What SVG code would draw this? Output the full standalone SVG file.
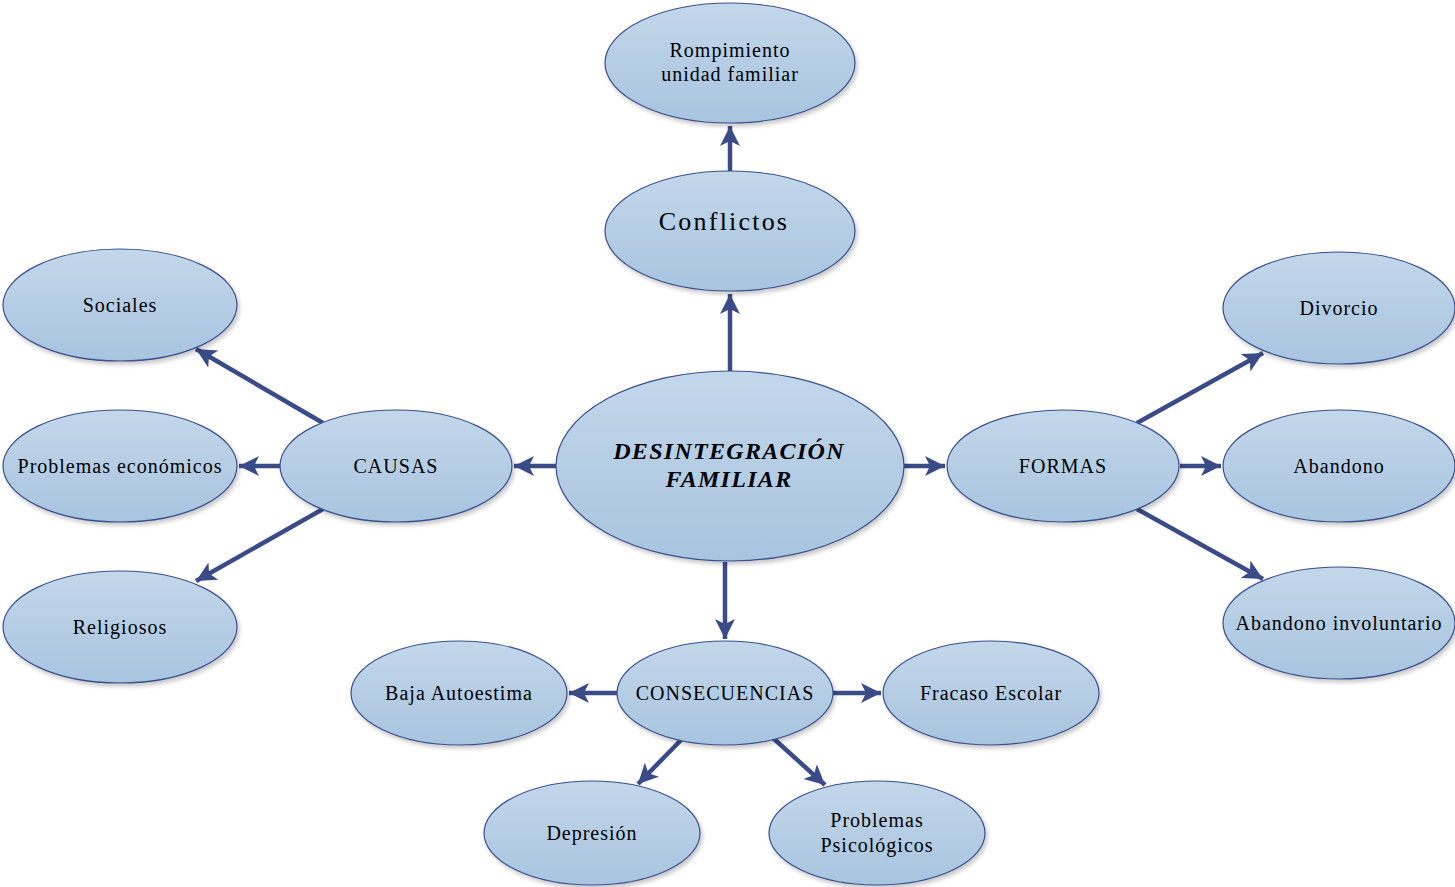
<svg xmlns="http://www.w3.org/2000/svg" width="1455" height="887" viewBox="0 0 1455 887">
<defs>
<linearGradient id="g" x1="0" y1="0" x2="0" y2="1">
<stop offset="0" stop-color="#c3d7ea"/>
<stop offset="1" stop-color="#a8c4df"/>
</linearGradient>
<filter id="sh" x="-10%" y="-10%" width="125%" height="130%">
<feGaussianBlur in="SourceAlpha" stdDeviation="2"/>
<feOffset dx="2" dy="3" result="b"/>
<feComponentTransfer><feFuncA type="linear" slope="0.22"/></feComponentTransfer>
<feMerge><feMergeNode/><feMergeNode in="SourceGraphic"/></feMerge>
</filter>
<marker id="ah" markerUnits="userSpaceOnUse" markerWidth="24" markerHeight="22" refX="20" refY="10" orient="auto">
<path d="M0,0 L20,10 L0,20 L5,10 Z" fill="#3a4b88"/>
</marker>
</defs>
<style>
.n ellipse{fill:url(#g);stroke:#3a4f8e;stroke-width:1.2;filter:url(#sh)}
.n text{font-family:"Liberation Serif","Times New Roman",serif;font-size:20px;letter-spacing:1px;fill:#000;text-anchor:middle;dominant-baseline:central}
.n text.big{font-size:24px;font-weight:bold;font-style:italic;letter-spacing:1.3px}
.c line{stroke:#3a4b88;stroke-width:4.5;marker-end:url(#ah)}
</style>
<g class="c" id="connectors">
<line x1="730" y1="371" x2="730" y2="294"/>
<line x1="730" y1="171" x2="730" y2="126"/>
<line x1="556" y1="466" x2="514" y2="466"/>
<line x1="280" y1="466" x2="239" y2="466"/>
<line x1="323" y1="423" x2="196" y2="349"/>
<line x1="323" y1="509" x2="196" y2="581"/>
<line x1="904" y1="466" x2="945" y2="466"/>
<line x1="1180" y1="466" x2="1221" y2="466"/>
<line x1="1137" y1="423" x2="1263" y2="353"/>
<line x1="1137" y1="509" x2="1263" y2="579"/>
<line x1="725" y1="562" x2="725" y2="639"/>
<line x1="617" y1="693" x2="569" y2="693"/>
<line x1="833" y1="693" x2="881" y2="693"/>
<line x1="681" y1="740" x2="638" y2="784"/>
<line x1="773" y1="738" x2="825" y2="785"/>
</g>
<g class="n" id="rompimiento"><ellipse cx="730" cy="63" rx="125" ry="60"/><text x="730" y="50">Rompimiento</text><text x="730" y="74">unidad familiar</text></g>
<g class="n" id="conflictos"><ellipse cx="730" cy="231" rx="125" ry="60"/><text x="724" y="221" style="font-size:26px;letter-spacing:2.2px">Conflictos</text></g>
<g class="n" id="desintegracion"><ellipse cx="730" cy="466" rx="174" ry="95"/><text class="big" x="729" y="451">DESINTEGRACIÓN</text><text class="big" x="729" y="479">FAMILIAR</text></g>
<g class="n" id="causas"><ellipse cx="396" cy="466" rx="116" ry="56"/><text x="396" y="466">CAUSAS</text></g>
<g class="n" id="sociales"><ellipse cx="120" cy="305" rx="117" ry="56"/><text x="120" y="305">Sociales</text></g>
<g class="n" id="economicos"><ellipse cx="120" cy="466" rx="117" ry="56"/><text x="120" y="466">Problemas económicos</text></g>
<g class="n" id="religiosos"><ellipse cx="120" cy="627" rx="117" ry="56"/><text x="120" y="627">Religiosos</text></g>
<g class="n" id="formas"><ellipse cx="1063" cy="466" rx="116" ry="56"/><text x="1063" y="466">FORMAS</text></g>
<g class="n" id="divorcio"><ellipse cx="1339" cy="308" rx="116" ry="56"/><text x="1339" y="308">Divorcio</text></g>
<g class="n" id="abandono"><ellipse cx="1339" cy="466" rx="116" ry="56"/><text x="1339" y="466">Abandono</text></g>
<g class="n" id="involuntario"><ellipse cx="1339" cy="623" rx="116" ry="56"/><text x="1339" y="623">Abandono involuntario</text></g>
<g class="n" id="consecuencias"><ellipse cx="725" cy="693" rx="108" ry="52"/><text x="725" y="693">CONSECUENCIAS</text></g>
<g class="n" id="autoestima"><ellipse cx="459" cy="693" rx="108" ry="52"/><text x="459" y="693">Baja Autoestima</text></g>
<g class="n" id="fracaso"><ellipse cx="991" cy="693" rx="108" ry="52"/><text x="991" y="693">Fracaso Escolar</text></g>
<g class="n" id="depresion"><ellipse cx="592" cy="833" rx="108" ry="52"/><text x="592" y="833">Depresión</text></g>
<g class="n" id="psicologicos"><ellipse cx="877" cy="833" rx="108" ry="52"/><text x="877" y="820">Problemas</text><text x="877" y="845">Psicológicos</text></g>
</svg>
